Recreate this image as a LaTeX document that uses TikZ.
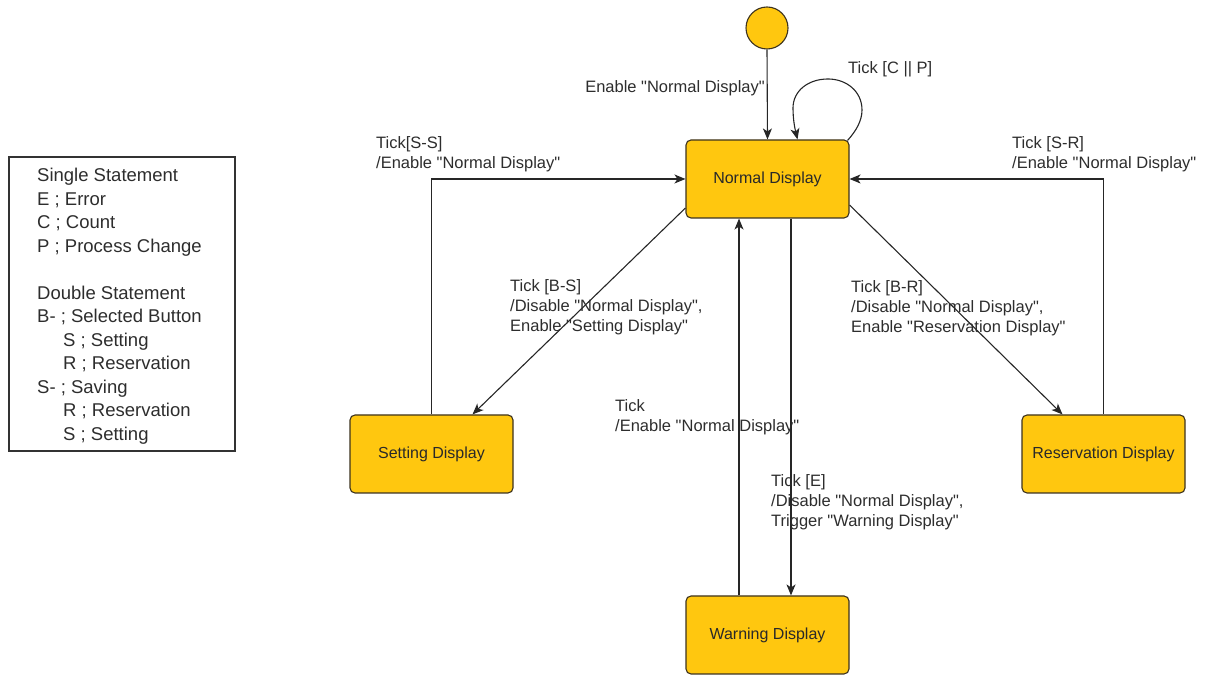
\documentclass[tikz,border=0pt]{standalone}
\usepackage{fontspec}
\setmainfont{Liberation Sans}
\usetikzlibrary{arrows.meta}
\definecolor{stfill}{RGB}{255,199,15}
\definecolor{stline}{RGB}{60,50,30}
\definecolor{txt}{RGB}{45,45,45}
\newcommand{\q}{\textquotedbl}
\tikzset{
  state/.style={draw=stline, line width=1.1pt, fill=stfill, rounded corners=5pt,
    minimum width=163pt, minimum height=78pt, inner sep=0pt,
    font=\fontsize{16}{19}\selectfont, text=txt!90!black},
  conn/.style={draw=black!85, line width=1.1pt, -{Stealth[length=11pt,width=9pt,inset=3pt]}},
  lbl/.style={inner sep=0pt, align=left, text=txt, font=\fontsize{16.5}{20}\selectfont},
}
\begin{document}
\begin{tikzpicture}[x=1pt,y=1pt]
\useasboundingbox (0,0) rectangle (1205,676);
% legend
\node[draw=black!80, line width=2.2pt, minimum width=226pt, minimum height=294pt, inner sep=0pt] (legend) at (122,372) {};
\node[inner sep=0pt, anchor=north west, align=left, text=txt, font=\fontsize{18.5}{23.5}\selectfont] (legtext) at (37,508)
{Single Statement\\
E ; Error\\
C ; Count\\
P ; Process Change\\[23.5pt]
Double Statement\\
B- ; Selected Button\\
\hspace*{26pt}S ; Setting\\
\hspace*{26pt}R ; Reservation\\
S- ; Saving\\
\hspace*{26pt}R ; Reservation\\
\hspace*{26pt}S ; Setting};
% states
\node[circle, draw=stline, line width=1.1pt, fill=stfill, minimum size=42pt, inner sep=0pt] (init) at (767,648) {};
\node[state] (normal) at (767.5,497) {Normal Display};
\node[state] (setting) at (431.5,222) {Setting Display};
\node[state] (reserv) at (1103.5,222) {Reservation Display};
\node[state] (warning) at (767.5,41) {Warning Display};
% connectors
\draw[conn] (init.south) -- (normal.north);
\draw[conn] ([xshift=-2pt,yshift=-1pt]normal.north east) .. controls (856,545) and (862,555) .. (862,566)
   .. controls (862,585) and (846,597) .. (828,597)
   .. controls (808,597) and (793,585) .. (793,568)
   .. controls (793,556) and (795,547) .. ([xshift=30pt]normal.north);
\draw[conn] (setting.north) |- (normal.west);
\draw[conn] (reserv.north) |- (normal.east);
\draw[conn] ([yshift=-29pt]normal.west) -- ([xshift=41pt]setting.north);
\draw[conn] ([yshift=-26pt]normal.east) -- ([xshift=-41pt]reserv.north);
\draw[conn] ([xshift=-28.5pt]warning.north) -- ([xshift=-28.5pt]normal.south);
\draw[conn] ([xshift=23.5pt]normal.south) -- ([xshift=23.5pt]warning.north);
% labels
\node[lbl, anchor=north east] (l0) at (765,596) {Enable \q Normal Display\q};
\node[lbl, anchor=north west] (l1) at (848,615) {Tick [C || P]};
\node[lbl, anchor=north west] (l2) at (376,540) {Tick[S-S]\\/Enable \q Normal Display\q};
\node[lbl, anchor=north west] (l3) at (1012,540) {Tick [S-R]\\/Enable \q Normal Display\q};
\node[lbl, anchor=north west] (l4) at (510,397) {Tick [B-S]\\/Disable \q Normal Display\q,\\Enable \q Setting Display\q};
\node[lbl, anchor=north west] (l5) at (851,396) {Tick [B-R]\\/Disable \q Normal Display\q,\\Enable \q Reservation Display\q};
\node[lbl, anchor=north west] (l6) at (615,277) {Tick\\/Enable \q Normal Display\q};
\node[lbl, anchor=north west] (l7) at (771,202) {Tick [E]\\/Disable \q Normal Display\q,\\Trigger \q Warning Display\q};
\end{tikzpicture}
\end{document}
